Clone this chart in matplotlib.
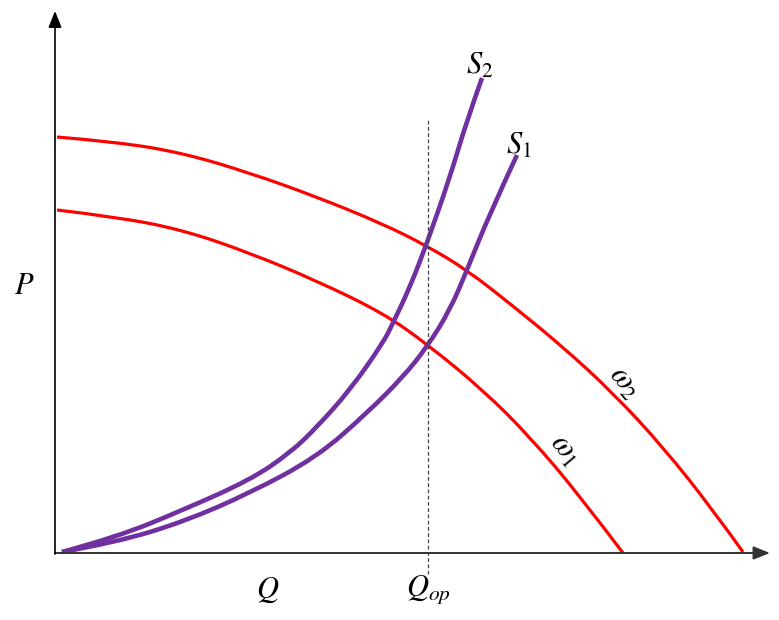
import numpy as np
import matplotlib.pyplot as plt
from matplotlib.path import Path
from matplotlib.patches import PathPatch

plt.rcParams['mathtext.fontset'] = 'stix'

# pump curves (head P vs flow Q) at two speeds
q_w2 = [0, 60, 126, 193, 260, 326, 370, 410, 456, 506, 556, 606, 656, 686]
p_w2 = [416, 411, 400, 380, 356, 329, 307, 283, 247, 206, 160, 106, 43, 1]

q_w1 = [0, 60, 126, 193, 260, 326, 370, 426, 473, 523, 566]
p_w1 = [343, 336, 323, 300, 272, 240, 209, 163, 116, 57, 0]

# system curves
q_s2 = [5, 60, 126, 193, 233, 260, 293, 326, 336, 353, 370, 393, 410, 425]
p_s2 = [1, 16, 43, 73, 100, 126, 163, 210, 230, 266, 310, 376, 433, 475]

q_s1 = [5, 60, 126, 193, 260, 310, 346, 370, 393, 410, 433, 460]
p_s1 = [1, 11, 31, 60, 96, 140, 176, 206, 243, 283, 340, 398]

q_op = 371

red = "#FF0000"
purple = "#7030A0"


def smooth_curve(ax, q, p, **kw):
    # quadratic bezier pieces: read points act as control points,
    # midpoints between them as joints, so the stroke has no corners
    pts = np.column_stack([q, p]).astype(float)
    verts = [pts[0]]
    codes = [Path.MOVETO]
    for i in range(1, len(pts) - 1):
        mid = (pts[i] + pts[i + 1]) / 2 if i < len(pts) - 2 else pts[-1]
        verts += [pts[i], mid]
        codes += [Path.CURVE3, Path.CURVE3]
    ax.add_patch(PathPatch(Path(verts, codes), fill=False, **kw))


fig = plt.figure(figsize=(7.79, 6.2), dpi=100)
ax = fig.add_axes([0, 0, 1, 1])
ax.set_xlim(-57, 722)
ax.set_ylim(-67, 553)
ax.axis("off")

# axes with arrow heads
ax.annotate("", xy=(713, 0), xytext=(-2, 0),
            arrowprops=dict(arrowstyle="-|>,head_length=1.0,head_width=0.4",
                            color="#333333", lw=1.4, shrinkA=0, shrinkB=0))
ax.annotate("", xy=(-2, 542), xytext=(-2, -1),
            arrowprops=dict(arrowstyle="-|>,head_length=1.0,head_width=0.4",
                            color="black", lw=1.2, shrinkA=0, shrinkB=0))

# operating point line
ax.plot([q_op, q_op], [-21, 433], color="#444444", lw=0.9, ls=(0, (3, 2)))

smooth_curve(ax, q_w2, p_w2, edgecolor=red, lw=2.3)
smooth_curve(ax, q_w1, p_w1, edgecolor=red, lw=2.3)
smooth_curve(ax, q_s2, p_s2, edgecolor=purple, lw=3.3)
smooth_curve(ax, q_s1, p_s1, edgecolor=purple, lw=3.3)

fs = 22
ax.text(423, 488, r"$S_2$", fontsize=fs, ha="center", va="center")
ax.text(462, 408, r"$S_1$", fontsize=fs, ha="center", va="center")
ax.text(568, 171, r"$\omega_2$", fontsize=fs, ha="center", va="center", rotation=-50)
ax.text(508, 103, r"$\omega_1$", fontsize=fs, ha="center", va="center", rotation=-50)
ax.text(-33, 268, r"$P$", fontsize=fs, ha="center", va="center")
ax.text(211, -37, r"$Q$", fontsize=fs, ha="center", va="center")
ax.text(q_op, -37, r"$Q_{op}$", fontsize=fs, ha="center", va="center")

fig.savefig("out.png", dpi=100, facecolor="white")
